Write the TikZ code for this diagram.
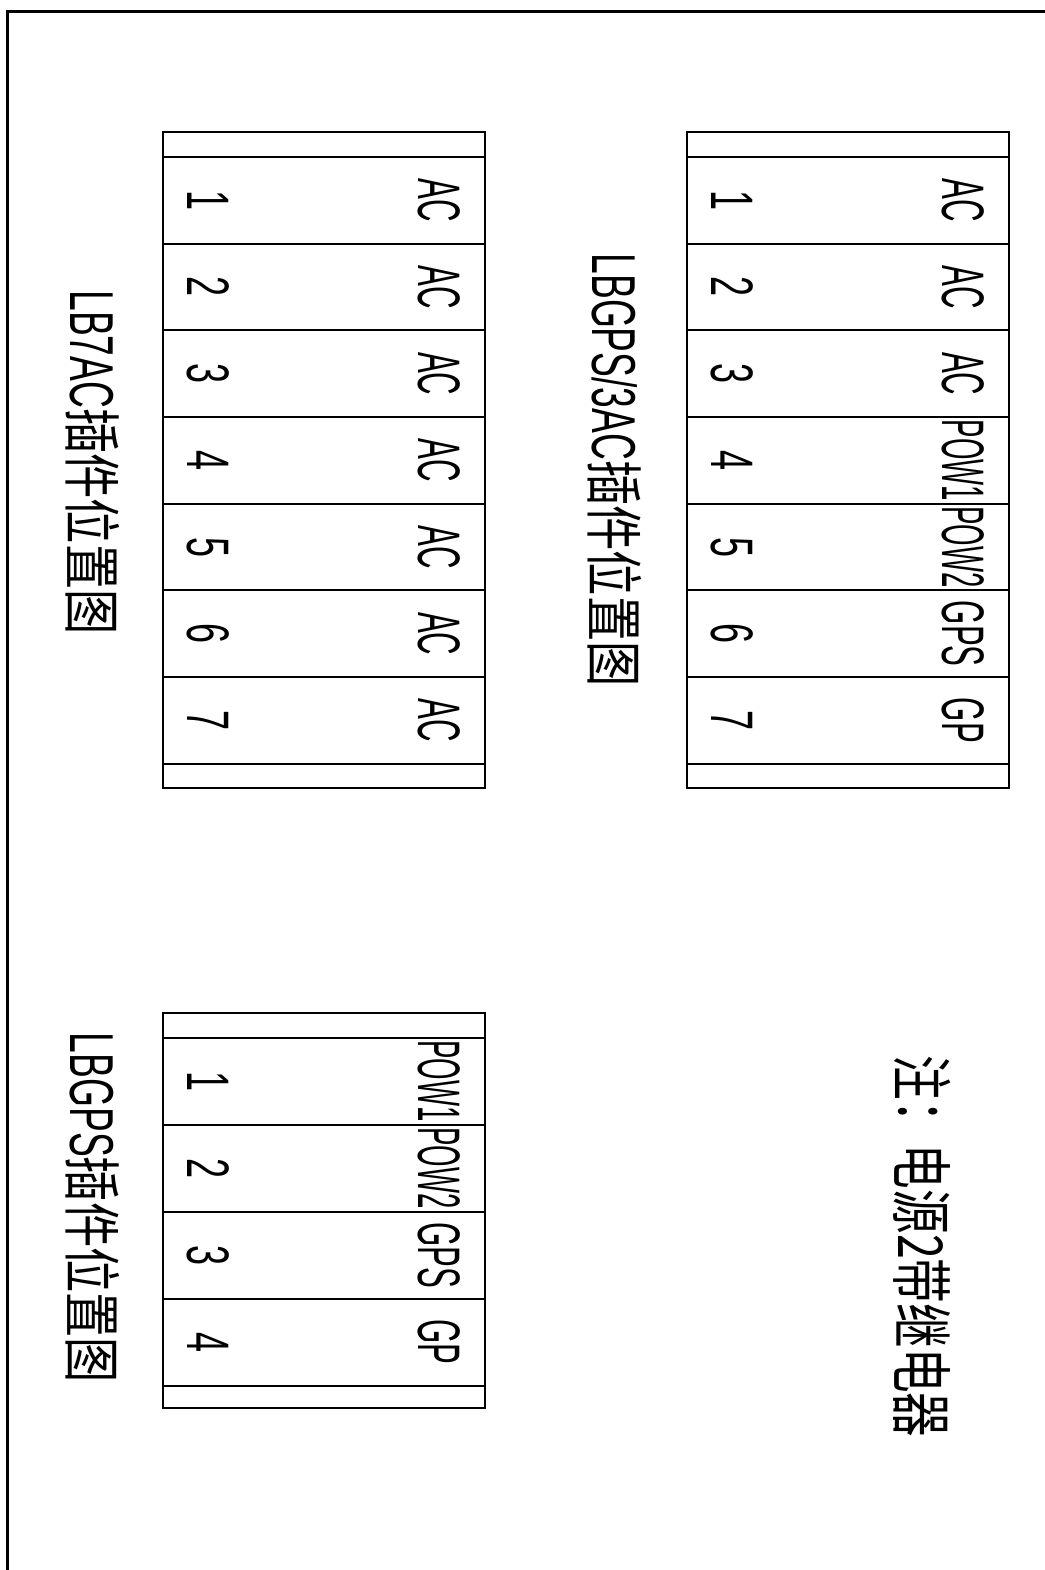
\documentclass[tikz,border=0pt]{standalone}
\usepackage{fontspec}
\setmainfont{Liberation Sans}
\newfontfamily\cjk{Noto Sans CJK SC}
\usepackage{graphicx}
\newcommand\narrowtxt[2]{\scalebox{#1}[1]{#2}}
\newcommand\latin[1]{\narrowtxt{0.6}{\fontsize{62}{62}\selectfont #1}}
\newcommand\hanzi[1]{\narrowtxt{0.78}{\cjk\fontsize{58}{58}\selectfont #1}}
\tikzset{
  frame/.style={line width=3pt},
  tbl/.style={line width=2pt},
  rottext/.style={rotate=-90, anchor=base, inner sep=0pt, outer sep=0pt},
  numtxt/.style={rottext, font=\fontsize{60}{60}\selectfont},
  labtxt/.style={rottext, font=\fontsize{60}{60}\selectfont},
  titletxt/.style={rottext},
}
\begin{document}
\begin{tikzpicture}[x=1pt, y=-1pt]
\useasboundingbox (0,0) rectangle (1044,1570);
\draw[frame] (7,1580) -- (7,12) -- (1054,12);

% table 1: LBGPS/3AC
\draw[tbl] (687,132) rectangle (1009,788);
\foreach \i in {0,...,7} \draw[tbl] (687,{157+86.67*\i}) -- (1009,{157+86.67*\i});
\foreach \i/\t/\s in {1/AC/0.52,2/AC/0.52,3/AC/0.52,4/POW1/0.46,5/POW2/0.46,6/GPS/0.52,7/GP/0.52} {
  \node[numtxt] (ta\i) at (711,{157+86.67*(\i-0.5)}) {\narrowtxt{0.6}{\i}};
  \node[labtxt] (tb\i) at (942,{157+86.67*(\i-0.5)}) {\narrowtxt{\s}{\t}};
}
\node[titletxt] (title1) at (592,470) {\latin{LBGPS/3AC}\hanzi{插件位置图}};

% table 2: LB7AC
\draw[tbl] (163,132) rectangle (485,788);
\foreach \i in {0,...,7} \draw[tbl] (163,{157+86.67*\i}) -- (485,{157+86.67*\i});
\foreach \i in {1,...,7} {
  \node[numtxt] (ua\i) at (187,{157+86.67*(\i-0.5)}) {\narrowtxt{0.6}{\i}};
  \node[labtxt] (ub\i) at (418,{157+86.67*(\i-0.5)}) {\narrowtxt{0.52}{AC}};
}
\node[titletxt] (title2) at (70,462.5) {\latin{LB7AC}\hanzi{插件位置图}};

% table 3: LBGPS
\draw[tbl] (163,1013) rectangle (485,1408);
\foreach \i in {0,...,4} \draw[tbl] (163,{1037.5+87*\i}) -- (485,{1037.5+87*\i});
\foreach \i/\t/\s in {1/POW1/0.46,2/POW2/0.46,3/GPS/0.52,4/GP/0.52} {
  \node[numtxt] (va\i) at (187,{1037.5+87*(\i-0.5)}) {\narrowtxt{0.6}{\i}};
  \node[labtxt] (vb\i) at (418,{1037.5+87*(\i-0.5)}) {\narrowtxt{\s}{\t}};
}
\node[titletxt] (title3) at (70,1208) {\latin{LBGPS}\hanzi{插件位置图}};

% note
\node[titletxt] (note) at (898,1246.5) {\narrowtxt{0.72}{\cjk\fontsize{62}{62}\selectfont 注：电源2带继电器}};
\end{tikzpicture}
\end{document}
